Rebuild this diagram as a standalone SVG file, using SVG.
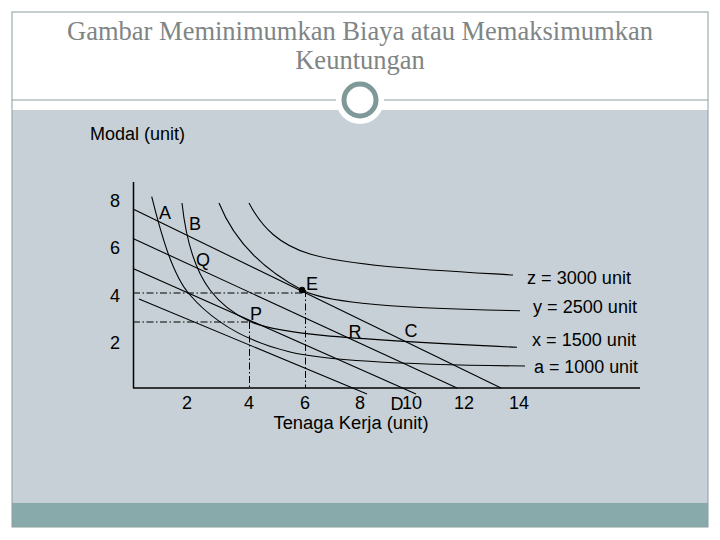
<svg xmlns="http://www.w3.org/2000/svg" width="720" height="540" viewBox="0 0 720 540">
<style>
.t{font-family:"Liberation Sans",Arial,sans-serif;font-size:18px;fill:#000}
.m{text-anchor:middle}
.ttl{font-family:"Liberation Serif","Times New Roman",serif;font-size:26.5px;fill:#7f8585;text-anchor:middle}
.ln{fill:none;stroke:#000;stroke-width:1.1}
.dd{fill:none;stroke:#000;stroke-width:1;stroke-dasharray:7,2.5,1.5,2.5}
.ax{fill:none;stroke:#000;stroke-width:1.5}
</style>
<rect x="0" y="0" width="720" height="540" fill="#fff"/>
<g id="slide">
<rect x="12" y="110" width="696" height="393" fill="#c6d0d6"/>
<rect x="12" y="503" width="696" height="24" fill="#89aaaa"/>
<rect x="12" y="12" width="696" height="515" fill="none" stroke="#8a9e9e" stroke-width="1"/>
<line x1="12" y1="100" x2="708" y2="100" stroke="#8a9e9e" stroke-width="1"/>
<circle cx="360" cy="100" r="24" fill="#fff"/>
<circle cx="360" cy="100" r="16" fill="#fff" stroke="#7f9999" stroke-width="5"/>
</g>
<g id="title">
<text class="ttl" x="360" y="40">Gambar Meminimumkan Biaya atau Memaksimumkan</text>
<text class="ttl" x="360" y="69">Keuntungan</text>
</g>
<g id="axes">
<line class="ax" x1="133.5" y1="182" x2="133.5" y2="388"/>
<line class="ax" x1="133" y1="388" x2="640" y2="388"/>
</g>
<g id="connectors">
<line class="dd" x1="133" y1="293" x2="302" y2="293"/>
<line class="dd" x1="305.5" y1="290" x2="305.5" y2="388"/>
<line class="dd" x1="133" y1="322" x2="249.5" y2="322"/>
<line class="dd" x1="249.5" y1="322" x2="249.5" y2="388"/>
<line class="ln" x1="133" y1="209" x2="501" y2="388"/>
<line class="ln" x1="133" y1="238.5" x2="457" y2="388"/>
<line class="ln" x1="133" y1="268.5" x2="416" y2="394"/>
<line class="ln" x1="139" y1="299" x2="367" y2="394"/>
<path class="ln" d="M151.7,196.7 C160,230 172,275 190,295 C210,318 240,340 290,352 C330,361.6 420,365 525,366"/>
<path class="ln" d="M182,203 C186,240 195,270 210,290 C222,306 236,315 250,321.5 C275,333 330,338.5 517,347.3"/>
<path class="ln" d="M219,203 C233,238 260,268 302,290 C322,300.4 370,308 520,310.7"/>
<path class="ln" d="M249,203 C262,228 280,245 310,254 C350,266 430,270 513,275"/>
<circle cx="302" cy="290" r="3.2" fill="#000"/>
</g>
<g id="ylabels">
<text class="t" x="90" y="140">Modal (unit)</text>
<text class="t m" x="115" y="207">8</text>
<text class="t m" x="115" y="254">6</text>
<text class="t m" x="115" y="302">4</text>
<text class="t m" x="115" y="349">2</text>
</g>
<g id="xlabels">
<text class="t m" x="187" y="409">2</text>
<text class="t m" x="249" y="409">4</text>
<text class="t m" x="305" y="409">6</text>
<text class="t m" x="360" y="409">8</text>
<text class="t m" x="397" y="410">D</text>
<text class="t m" x="412" y="409">10</text>
<text class="t m" x="464" y="409">12</text>
<text class="t m" x="519" y="409">14</text>
<text class="t m" x="351" y="429" textLength="155" lengthAdjust="spacingAndGlyphs">Tenaga Kerja (unit)</text>
</g>
<g id="points">
<text class="t m" x="165" y="219">A</text>
<text class="t m" x="195" y="230">B</text>
<text class="t m" x="203" y="266">Q</text>
<text class="t m" x="312" y="290">E</text>
<text class="t m" x="256" y="320">P</text>
<text class="t m" x="355" y="338">R</text>
<text class="t m" x="411" y="337">C</text>
</g>
<g id="curve-labels">
<text class="t" x="527" y="283.5" textLength="104" lengthAdjust="spacingAndGlyphs">z = 3000 unit</text>
<text class="t" x="533" y="313" textLength="104" lengthAdjust="spacingAndGlyphs">y = 2500 unit</text>
<text class="t" x="532" y="346" textLength="104" lengthAdjust="spacingAndGlyphs">x = 1500 unit</text>
<text class="t" x="534" y="373" textLength="104" lengthAdjust="spacingAndGlyphs">a = 1000 unit</text>
</g>
</svg>
